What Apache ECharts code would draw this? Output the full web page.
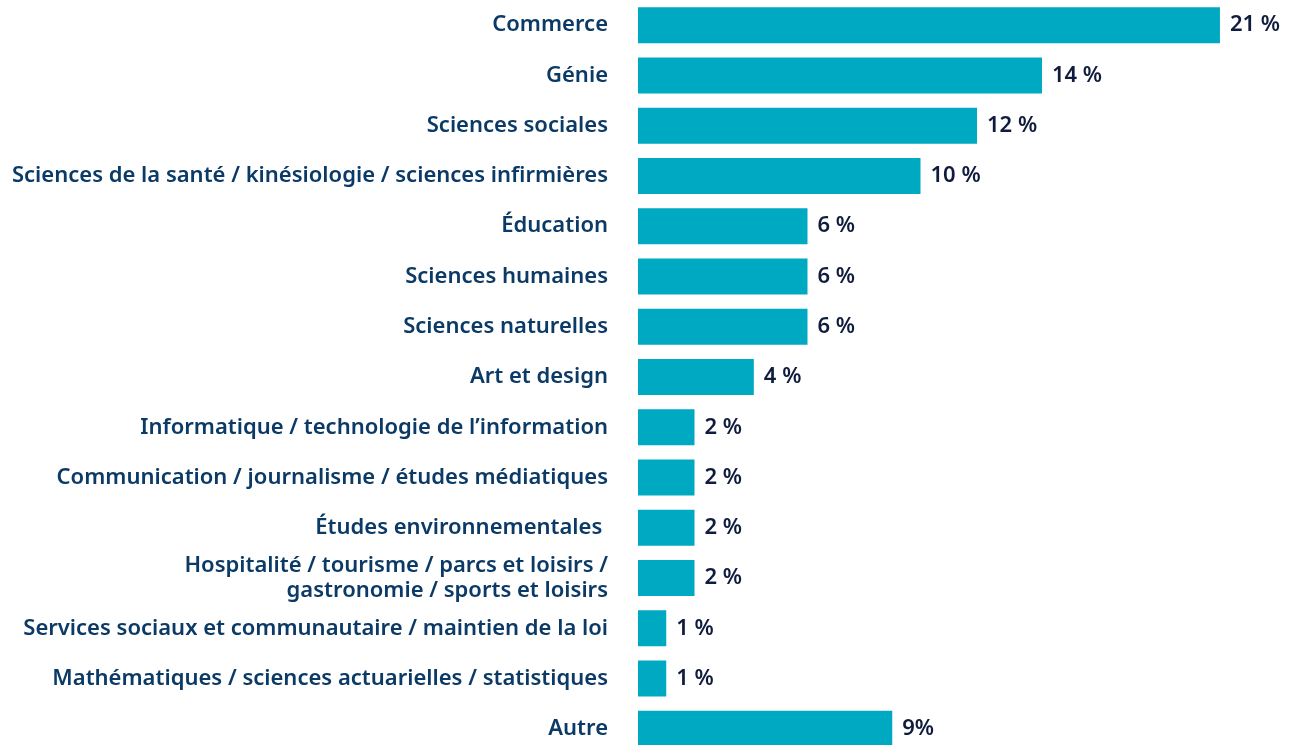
<!DOCTYPE html>
<html>
<head>
<meta charset="utf-8">
<script src="https://cdn.jsdelivr.net/npm/echarts@6/dist/echarts.min.js"></script>
<style>
    html, body { margin: 0; padding: 0; background: #fff; overflow: hidden; }
    #chart { width: 1291px; height: 754px; }
</style>
</head>
<body>
<div id="chart"></div>
<script>
var categories = [
    "Commerce",
    "Génie",
    "Sciences sociales",
    "Sciences de la santé / kinésiologie / sciences infirmières",
    "Éducation",
    "Sciences humaines",
    "Sciences naturelles",
    "Art et design",
    "Informatique / technologie de l’information",
    "Communication / journalisme / études médiatiques",
    "Études environnementales ",
    "Hospitalité / tourisme / parcs et loisirs /\ngastronomie / sports et loisirs",
    "Services sociaux et communautaire / maintien de la loi",
    "Mathématiques / sciences actuarielles / statistiques",
    "Autre"
];
var values = [20.6, 14.3, 12.0, 10.0, 6.0, 6.0, 6.0, 4.1, 2.0, 2.0, 2.0, 2.0, 1.0, 1.0, 9.0];
var valueLabels = ["21 %", "14 %", "12 %", "10 %", "6 %", "6 %", "6 %", "4 %", "2 %", "2 %", "2 %", "2 %", "1 %", "1 %", "9%"];

var chart = echarts.init(document.getElementById('chart'));

var option = {
    animation: false,
    grid: {
        left: 638,
        top: 0,
        width: 621.5,
        bottom: 0
    },
    xAxis: {
        type: 'value',
        min: 0,
        max: 22,
        show: false
    },
    yAxis: {
        type: 'category',
        inverse: true,
        data: categories,
        axisLine: { show: false },
        axisTick: { show: false },
        axisLabel: {
            margin: 30,
            color: '#0b3a66',
            fontFamily: 'Noto Sans',
            fontSize: 22,
            fontWeight: 600,
            lineHeight: 25
        }
    },
    series: [{
        type: 'bar',
        data: values,
        barWidth: 36,
        itemStyle: { color: '#00a9c2' },
        label: {
            show: true,
            position: 'right',
            distance: 10,
            color: '#101c3d',
            fontFamily: 'Noto Sans',
            fontSize: 22,
            fontWeight: 600,
            formatter: function (p) {
                return valueLabels[p.dataIndex];
            }
        }
    }]
};
chart.setOption(option);
</script>
</body>
</html>
